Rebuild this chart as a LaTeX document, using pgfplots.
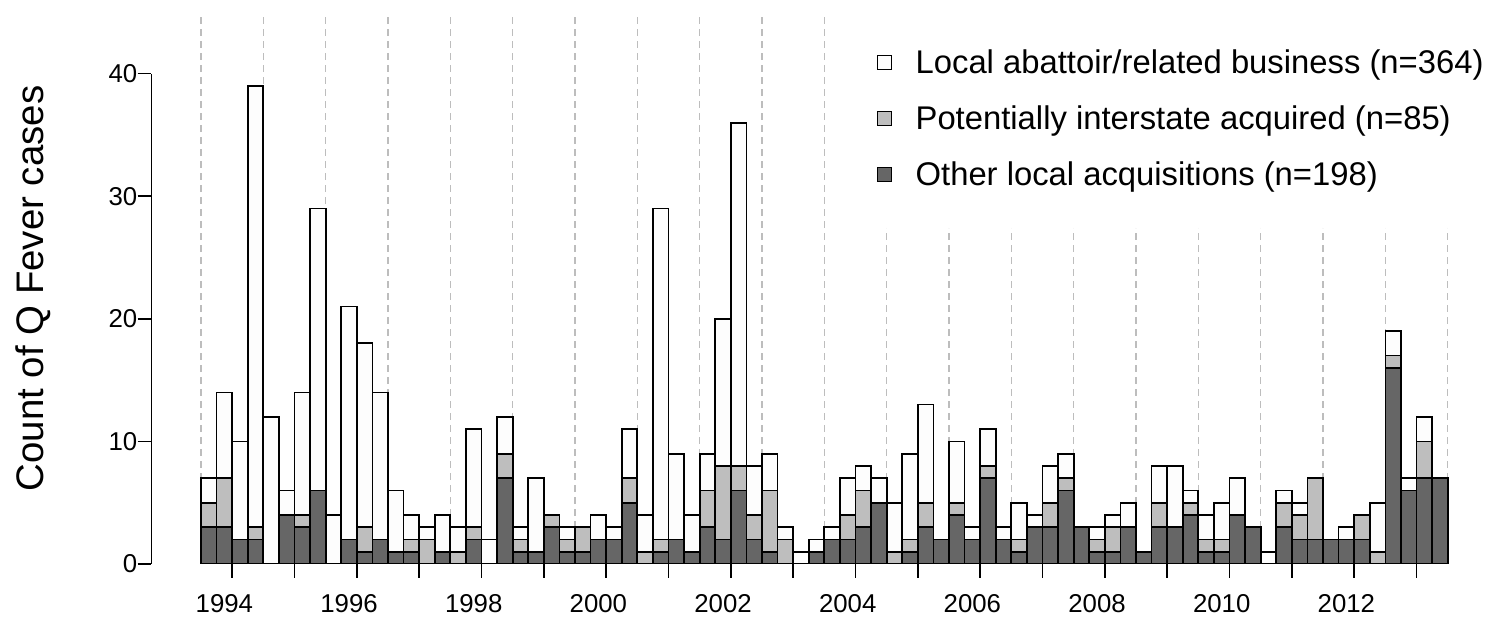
\documentclass[border=0pt]{standalone}
\usepackage{fontspec}
\setmainfont{Liberation Sans}
\usepackage{pgfplots}
\pgfplotsset{compat=1.18}
\usepackage{pgfplotstable}

\definecolor{cdark}{HTML}{666666}
\definecolor{cgrey}{HTML}{BEBEBE}
\definecolor{cwhite}{HTML}{FDFDFD}
\definecolor{cgrid}{HTML}{BDBDBD}

\newcommand\tickfont{\fontsize{12.9}{15}\selectfont}
\newcommand\legfont{\fontsize{16.4}{19}\selectfont}
\newcommand\labfont{\fontsize{19.2}{23}\selectfont}

\pgfplotsset{
  qframe/.style={
    at={(75.56pt,33.5pt)}, anchor=south west,
    scale only axis, width=667.75pt, height=274.1pt,
    xmin=-3.2, xmax=82.5, ymin=0, ymax=44.72,
  },
}
\tikzset{qgrid/.style={cgrid, line width=0.75pt, dash pattern=on 3.5pt off 2.5pt}}

% quarterly counts, 1994 Q1 (i=0) to 2013 Q4 (i=79)
% d = other local acquisitions, g = potentially interstate, w = local abattoir
\pgfplotstableread{
i d g w
0 3 2 2
1 3 4 7
2 2 0 8
3 2 1 36
4 0 0 12
5 4 0 2
6 3 1 10
7 6 0 23
8 0 0 4
9 2 0 19
10 1 2 15
11 2 0 12
12 1 0 5
13 1 1 2
14 0 2 1
15 1 0 3
16 0 1 2
17 2 1 8
18 0 0 2
19 7 2 3
20 1 1 1
21 1 0 6
22 3 1 0
23 1 1 1
24 1 2 0
25 2 0 2
26 2 0 1
27 5 2 4
28 0 1 3
29 1 1 27
30 2 0 7
31 1 0 3
32 3 3 3
33 2 6 12
34 6 2 28
35 2 2 4
36 1 5 3
37 0 2 1
38 0 0 1
39 1 0 1
40 2 0 1
41 2 2 3
42 3 3 2
43 5 0 2
44 0 1 4
45 1 1 7
46 3 2 8
47 2 0 0
48 4 1 5
49 2 0 1
50 7 1 3
51 2 0 1
52 1 1 3
53 3 0 1
54 3 2 3
55 6 1 2
56 3 0 0
57 1 1 1
58 1 2 1
59 3 0 2
60 1 0 0
61 3 2 3
62 3 0 5
63 4 1 1
64 1 1 2
65 1 1 3
66 4 0 3
67 3 0 0
68 0 0 1
69 3 2 1
70 2 2 1
71 2 5 0
72 2 0 0
73 2 0 1
74 2 2 0
75 0 1 4
76 16 1 2
77 6 0 1
78 7 3 2
79 7 0 0
}\qdata

\begin{document}
\begin{tikzpicture}
% background axis: dashed year separators
\begin{axis}[qframe, hide axis]
\pgfplotsinvokeforeach{0,4,...,40}{\draw[qgrid] (axis cs:#1,0) -- (axis cs:#1,44.72);}
\pgfplotsinvokeforeach{44,48,...,80}{\draw[qgrid] (axis cs:#1,0) -- (axis cs:#1,27.41);}
\end{axis}
% main axis: stacked bars
\begin{axis}[
  qframe,
  axis line style={draw=none},
  ybar stacked, bar width=1, bar shift=0pt,
  tick align=outside, xtick pos=bottom, ytick pos=left,
  major tick length=6.75pt,
  tick style={black, line width=0.85pt},
  ytick={0,10,20,30,40},
  xtick={2,6,...,78},
  xticklabels={,,,,,,,,,,,,,,,,,,,,},
  extra x ticks={1.5,9.5,17.5,25.5,33.5,41.5,49.5,57.5,65.5,73.5},
  extra x tick labels={1994,1996,1998,2000,2002,2004,2006,2008,2010,2012},
  extra x tick style={major tick length=0pt,
    xticklabel style={anchor=base, inner sep=0pt, yshift=-24pt}},
  tick label style={font=\tickfont},
  yticklabel style={anchor=east, inner sep=0pt},
  /pgf/number format/assume math mode=true,
  ylabel={Count of Q Fever cases},
  ylabel style={font=\labfont, at={(rel axis cs:-0.0809,0.5026)}, anchor=base},
  legend image code/.code={\draw[#1, line width=0.5pt] (0pt,2pt) rectangle (7pt,9pt);},
  reverse legend,
  legend style={at={(axis cs:43.33,41.96)}, anchor=north west, draw=none, fill=none,
    inner sep=0pt, row sep=14.46pt, column sep=12pt,
    nodes={inner sep=0pt, anchor=base west}, font=\legfont},
]
\draw[black, line width=0.85pt] (axis cs:-3.2,0) -- (axis cs:-3.2,40);
\addplot[fill=cdark, draw=black, line width=0.85pt] table[x expr=\thisrow{i}+0.5, y=d] {\qdata};
\addlegendentry{Other local acquisitions (n=198)}
\addplot[fill=cgrey, draw=black, line width=0.85pt] table[x expr=\thisrow{i}+0.5, y=g] {\qdata};
\addlegendentry{Potentially interstate acquired (n=85)}
\addplot[fill=cwhite, draw=black, line width=0.85pt] table[x expr=\thisrow{i}+0.5, y=w] {\qdata};
\addlegendentry{Local abattoir/related business (n=364)}
\end{axis}
\pgfresetboundingbox
\useasboundingbox (0,0) rectangle (743.5pt,315.5pt);
\end{tikzpicture}
\end{document}
